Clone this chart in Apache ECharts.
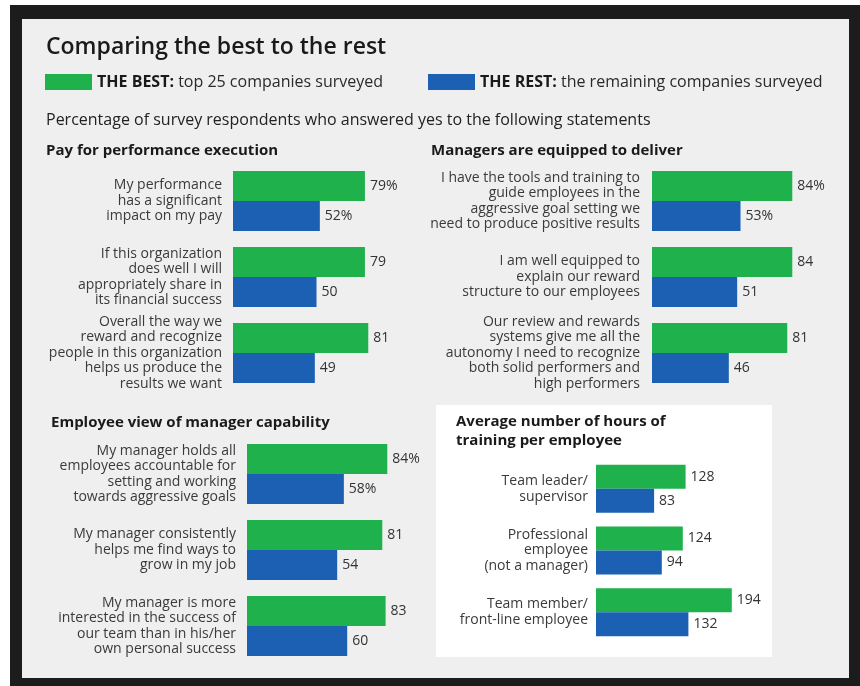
<!DOCTYPE html>
<html><head><meta charset="utf-8">
<script src="https://cdn.jsdelivr.net/npm/echarts@6/dist/echarts.min.js"></script>
<style>html,body{margin:0;padding:0;background:#fff}#c{width:860px;height:686px}</style>
</head><body><div id="c"></div>
<script>
// ---- data ----
const cats1 = ['My performance\nhas a significant\nimpact on my pay',
  'If this organization\ndoes well I will\nappropriately share in\nits financial success',
  'Overall the way we\nreward and recognize\npeople in this organization\nhelps us produce the\nresults we want'];
const best1 = [79, 79, 81];
const rest1 = [52, 50, 49];

const cats2 = ['I have the tools and training to\nguide employees in the\naggressive goal setting we\nneed to produce positive results',
  'I am well equipped to\nexplain our reward\nstructure to our employees',
  'Our review and rewards\nsystems give me all the\nautonomy I need to recognize\nboth solid performers and\nhigh performers'];
const best2 = [84, 84, 81];
const rest2 = [53, 51, 46];

const cats3 = ['My manager holds all\nemployees accountable for\nsetting and working\ntowards aggressive goals',
  'My manager consistently\nhelps me find ways to\ngrow in my job',
  'My manager is more\ninterested in the success of\nour team than in his/her\nown personal success'];
const best3 = [84, 81, 83];
const rest3 = [58, 54, 60];

const cats4 = ['Team leader/\nsupervisor', 'Professional\nemployee\n(not a manager)', 'Team member/\nfront-line employee'];
const best4 = [128, 124, 194];
const rest4 = [83, 94, 132];

// ---- styles ----
const GREEN = '#1fb14b', BLUE = '#1b60b3';
const FONT = 'Open Sans';
const chart = echarts.init(document.getElementById('c'));

const panels = [
  {cats: cats1, best: best1, rest: rest1, left: 233, top: 163, height: 228, max: 100, width: 167, bw: 30, margin: 11, pct: true},
  {cats: cats2, best: best2, rest: rest2, left: 652, top: 163, height: 228, max: 100, width: 167, bw: 30, margin: 12, pct: true},
  {cats: cats3, best: best3, rest: rest3, left: 247, top: 436, height: 228, max: 100, width: 167, bw: 30, margin: 11, pct: true},
  {cats: cats4, best: best4, rest: rest4, left: 596, top: 458, height: 185, max: 200, width: 140, bw: 24, margin: 8, pct: false}
];

const grid = [], xAxis = [], yAxis = [], series = [];
panels.forEach((p, i) => {
  grid.push({left: p.left, top: p.top, width: p.width, height: p.height, containLabel: false});
  xAxis.push({type: 'value', gridIndex: i, min: 0, max: p.max, show: false});
  yAxis.push({type: 'category', gridIndex: i, data: p.cats, inverse: true,
    axisLine: {show: false}, axisTick: {show: false}, splitLine: {show: false},
    axisLabel: {margin: p.margin, align: 'right', fontFamily: FONT, fontSize: 14, lineHeight: 15.5, color: '#3a3a3a'}});
  const lbl = {show: true, position: 'right', distance: 5, fontFamily: FONT, fontSize: 14, color: '#333',
    formatter: (d) => (p.pct && d.dataIndex === 0) ? d.value + '%' : String(d.value)};
  series.push({name: 'THE BEST', type: 'bar', xAxisIndex: i, yAxisIndex: i, data: p.best, barWidth: p.bw, barGap: '0%',
    itemStyle: {color: GREEN}, label: lbl, silent: true});
  series.push({name: 'THE REST', type: 'bar', xAxisIndex: i, yAxisIndex: i, data: p.rest, barWidth: p.bw, barGap: '0%',
    itemStyle: {color: BLUE}, label: lbl, silent: true});
});

function txt(text, x, y, size, weight, color) {
  return {type: 'text', x: x, y: y, silent: true, z: 10,
    style: {text: text, fontFamily: FONT, fontSize: size, fontWeight: weight, fill: color || '#222', verticalAlign: 'middle', align: 'left'}};
}

const legendCommon = {icon: 'rect', itemWidth: 47, itemHeight: 16, itemGap: 0, selectedMode: false, top: 74, padding: 0,
  textStyle: {fontFamily: FONT, fontSize: 16, color: '#2a2a2a', rich: {b: {fontFamily: FONT, fontSize: 16, fontWeight: 'bold', color: '#1a1a1a'}}}};

chart.setOption({
  animation: false,
  backgroundColor: '#ffffff',
  grid, xAxis, yAxis, series,
  legend: [
    Object.assign({}, legendCommon, {left: 45, data: ['THE BEST'], formatter: () => '{b|THE BEST:} top 25 companies surveyed'}),
    Object.assign({}, legendCommon, {left: 428, data: ['THE REST'], formatter: () => '{b|THE REST:} the remaining companies surveyed'})
  ],
  graphic: [
    {type: 'rect', shape: {x: 10, y: 5, width: 850, height: 681}, style: {fill: '#1c1c1c'}, z: -10, silent: true},
    {type: 'rect', shape: {x: 22, y: 19, width: 827, height: 659}, style: {fill: '#efefef'}, z: -9, silent: true},
    {type: 'rect', shape: {x: 436, y: 405, width: 336, height: 252}, style: {fill: '#ffffff'}, z: -8, silent: true},
    txt('Comparing the best to the rest', 46, 47, 23, 600, '#1a1a1a'),
    txt('Percentage of survey respondents who answered yes to the following statements', 46, 120, 16, 'normal', '#222'),
    txt('Pay for performance execution', 46, 151, 15, 'bold', '#1a1a1a'),
    txt('Managers are equipped to deliver', 431, 151, 15, 'bold', '#1a1a1a'),
    txt('Employee view of manager capability', 51, 423, 15, 'bold', '#1a1a1a'),
    txt('Average number of hours of', 456, 422, 15, 'bold', '#1a1a1a'),
    txt('training per employee', 456, 441, 15, 'bold', '#1a1a1a')
  ]
});
</script></body></html>
